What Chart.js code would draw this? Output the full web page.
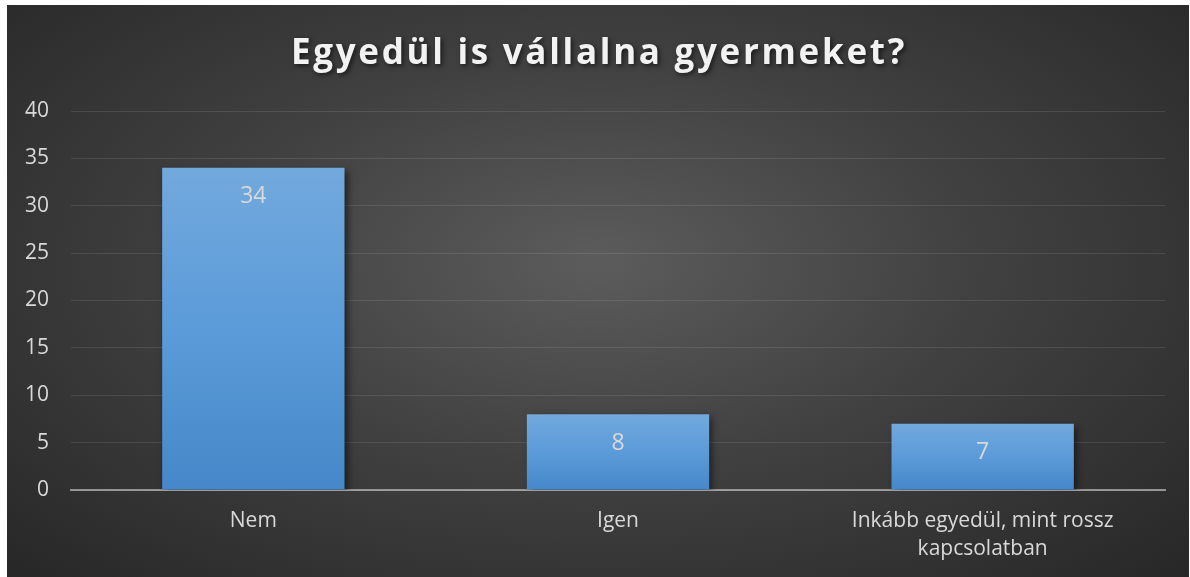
<!DOCTYPE html>
<html>
<head>
<meta charset="utf-8">
<script src="https://cdn.jsdelivr.net/npm/chart.js@4.4.1/dist/chart.umd.min.js"></script>
<style>
  html, body { margin: 0; padding: 0; background: #ffffff; }
  #frame {
    position: absolute;
    left: 7px;
    top: 5px;
    width: 1182px;
    height: 572px;
    background: radial-gradient(ellipse farthest-corner at 50% 45%, #5c5c5c 0%, #414141 45%, #272727 100%);
  }
  #graphic { display: block; }
</style>
</head>
<body>
<div id="frame">
  <canvas id="graphic" width="1182" height="572"></canvas>
</div>
<script>
const chartTitle = 'Egyedül is vállalna gyermeket?';
const categories = ['Nem', 'Igen', ['Inkább egyedül, mint rossz', 'kapcsolatban']];
const answers = [34, 8, 7];
const yMax = 40;
const yStep = 5;

const labelColor = '#d9d9d9';
const fontFamily = '"Open Sans", "Noto Sans", sans-serif';

function barGradient(context) {
  const chart = context.chart;
  const y = chart.scales.y;
  if (!chart.chartArea || !y) return '#5b9bd5';
  const top = y.getPixelForValue(context.raw);
  const bottom = y.getPixelForValue(0);
  const g = chart.ctx.createLinearGradient(0, top, 0, bottom);
  g.addColorStop(0, '#72a9dd');
  g.addColorStop(0.5, '#5b9bd9');
  g.addColorStop(1, '#4587c8');
  return g;
}

const decorations = {
  id: 'decorations',
  beforeDatasetsDraw(chart) {
    const ctx = chart.ctx;
    ctx.save();
    ctx.shadowColor = 'rgba(0, 0, 0, 0.55)';
    ctx.shadowBlur = 7;
    ctx.shadowOffsetX = 3;
    ctx.shadowOffsetY = 3;
  },
  afterDatasetsDraw(chart) {
    const ctx = chart.ctx;
    ctx.restore();
    // values inside the bars
    ctx.save();
    ctx.font = '23px ' + fontFamily;
    ctx.fillStyle = labelColor;
    ctx.textAlign = 'center';
    ctx.textBaseline = 'middle';
    chart.getDatasetMeta(0).data.forEach((bar, i) => {
      ctx.fillText(String(answers[i]), bar.x, bar.y + 29);
    });
    ctx.restore();
  },
  afterDraw(chart) {
    // title with spacing and shadow
    const ctx = chart.ctx;
    ctx.save();
    ctx.font = 'bold 35px ' + fontFamily;
    ctx.letterSpacing = '2.7px';
    ctx.fillStyle = '#f2f2f2';
    ctx.textAlign = 'center';
    ctx.textBaseline = 'alphabetic';
    ctx.shadowColor = 'rgba(0, 0, 0, 0.6)';
    ctx.shadowBlur = 5;
    ctx.shadowOffsetX = 2;
    ctx.shadowOffsetY = 2;
    ctx.fillText(chartTitle, chart.width / 2 + 1, 59);
    ctx.restore();
  },
};

const graphic = new Chart(document.querySelector('#graphic').getContext('2d'), {
  type: 'bar',
  data: {
    labels: categories,
    datasets: [{
      data: answers,
      backgroundColor: barGradient,
      borderWidth: 0,
      barPercentage: 0.5,
      categoryPercentage: 1,
    }],
  },
  options: {
    responsive: false,
    animation: false,
    layout: {
      padding: { top: 106, right: 24, bottom: 0, left: 0 },
    },
    plugins: {
      legend: { display: false },
      title: { display: false },
      tooltip: { enabled: false },
    },
    scales: {
      x: {
        z: 1,
        grid: { display: false, drawTicks: false },
        border: { display: true, color: 'rgba(200, 200, 200, 0.65)', width: 2 },
        ticks: {
          color: labelColor,
          padding: 17,
          maxRotation: 0,
          font: { family: fontFamily, size: 21, lineHeight: 1.34 },
        },
        afterFit(scale) { scale.height = 87; },
      },
      y: {
        min: 0,
        max: yMax,
        grid: { color: 'rgba(255, 255, 255, 0.1)', lineWidth: 1, drawTicks: false },
        border: { display: false },
        ticks: {
          stepSize: yStep,
          color: labelColor,
          padding: 22,
          font: { family: fontFamily, size: 21 },
        },
        afterFit(scale) { scale.width = 64; },
      },
    },
  },
  plugins: [decorations],
});
graphic.render();
</script>
</body>
</html>
